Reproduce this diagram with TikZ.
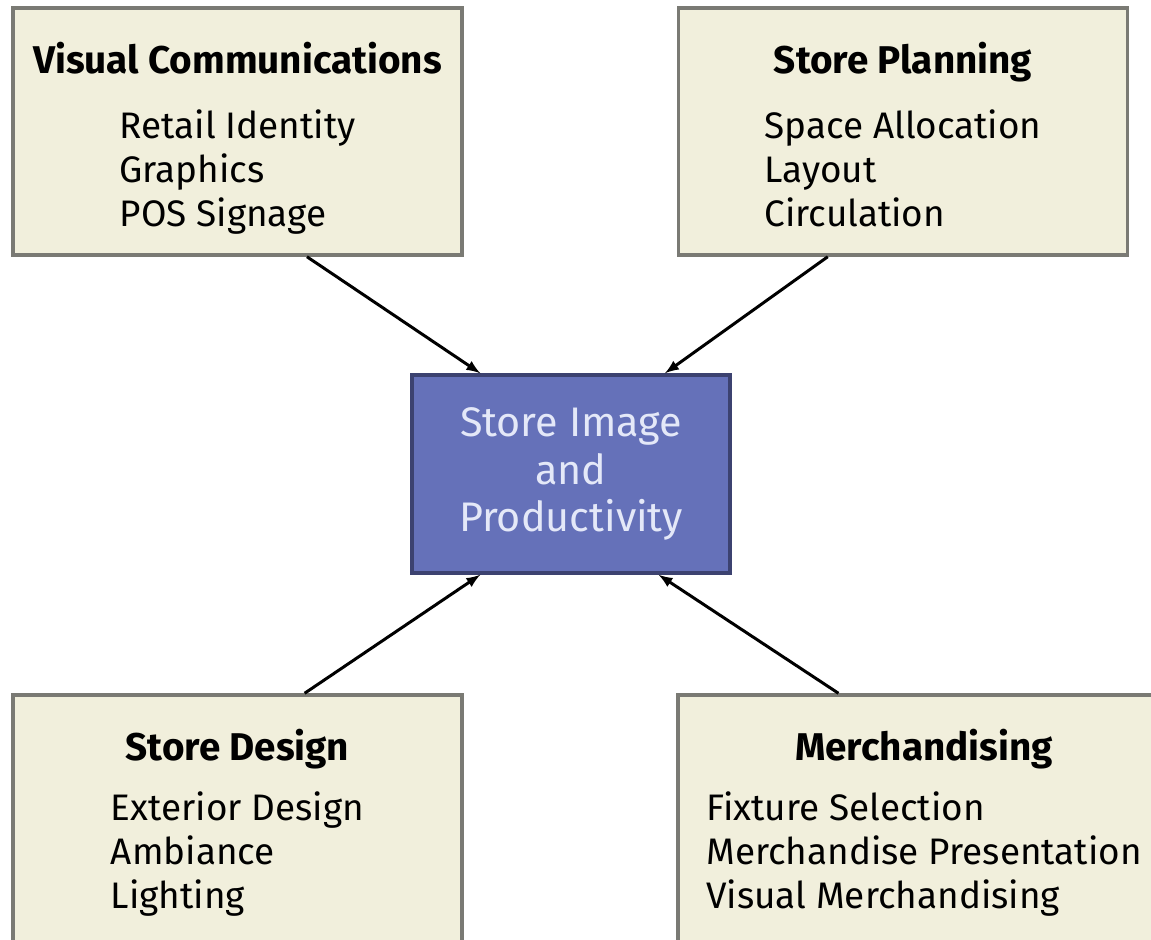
\documentclass[tikz,border=0pt]{standalone}
\usepackage{fontspec}
\setmainfont{Fira Sans}
\usetikzlibrary{arrows,positioning}

\definecolor{paper}{HTML}{F1EFDC}
\definecolor{rim}{HTML}{7A7A74}
\definecolor{hub}{HTML}{6571B9}
\definecolor{hubrim}{HTML}{3C4270}
\definecolor{hubtext}{HTML}{E4E8F8}

% left-aligned list block under a centred heading
\newcommand{\items}[1]{\begin{tabular}[t]{@{}l@{}}#1\end{tabular}}

\begin{document}
\begin{tikzpicture}[x=0.02cm, y=-0.02cm]
\tikzset{panel/.style={draw=rim, fill=paper, line width=2pt, minimum width=8.98cm, minimum height=4.94cm}}
\tikzset{panel text/.style={align=center, inner sep=0pt, font=\fontsize{21}{25}\selectfont}}
\tikzset{feed/.style={line width=1.7pt, -latex}}
\useasboundingbox (0,0) rectangle (1151,939);

% the four areas
\node[panel] (vc) at (237.5,131.5) {};
\node[panel] (sp) at (903,131.5) {};
\node[panel, minimum height=5.2cm] (sd) at (237.5,825) {};
\node[panel, minimum height=5.2cm, minimum width=9.84cm] (mer) at (924,825) {};

\node[panel text, below=0.72cm of vc.north] (vc-txt) {{\fontsize{22}{25}\selectfont\bfseries Visual Communications}\\[12pt]\items{Retail Identity\\Graphics\\POS Signage}};
\node[panel text, below=0.72cm of sp.north] (sp-txt) {{\fontsize{22}{25}\selectfont\bfseries Store Planning}\\[12pt]\items{Space Allocation\\Layout\\Circulation}};
\node[panel text, below=0.72cm of sd.north] (sd-txt) {{\fontsize{22}{25}\selectfont\bfseries Store Design}\\[9pt]\items{Exterior Design\\Ambiance\\Lighting}};
\node[panel text, below=0.72cm of mer.north] (mer-txt) {{\fontsize{22}{25}\selectfont\bfseries Merchandising}\\[9pt]\items{Fixture Selection\\Merchandise Presentation\\Visual Merchandising}};

% centre
\node[draw=hubrim, fill=hub, line width=2pt, minimum width=6.36cm, minimum height=3.96cm,
  text=hubtext, align=center, font=\fontsize{23.5}{26.8}\selectfont] (core) at (571,474)
  {Store Image\\and\\Productivity};

\draw[feed] (vc.-61) -- (core.132);
\draw[feed] (sp.-121) -- (core.47);
\draw[feed] (sd.63) -- (core.-132);
\draw[feed] (mer.123) -- (core.-49);
\end{tikzpicture}
\end{document}
